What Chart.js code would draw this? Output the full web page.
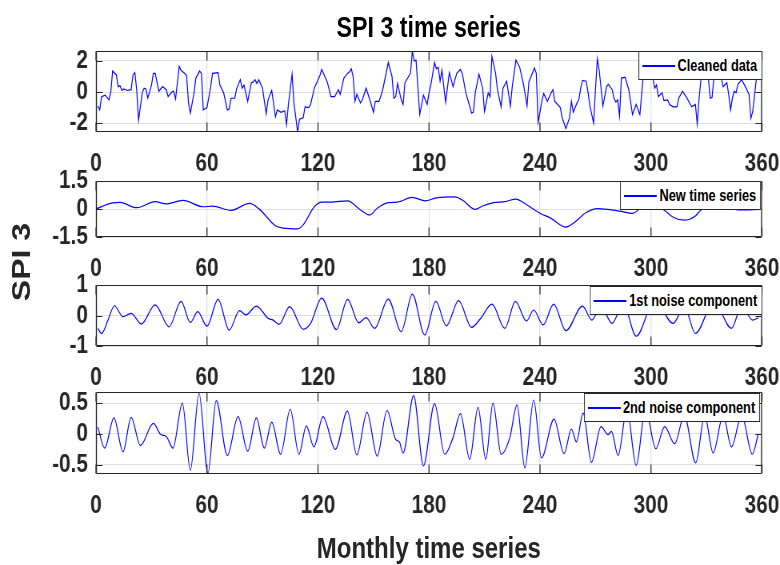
<!DOCTYPE html>
<html>
<head>
<meta charset="utf-8">
<script src="https://cdn.jsdelivr.net/npm/chart.js@4.4.1/dist/chart.umd.min.js"></script>
<style>
html,body{margin:0;padding:0;background:#fff;width:780px;height:565px;overflow:hidden;}
#wrap{position:relative;width:975px;height:565px;transform:scaleX(0.8);transform-origin:0 0;}
canvas{position:absolute;left:0;}
.txt{position:absolute;font-family:'Liberation Sans',Arial,sans-serif;font-weight:bold;white-space:nowrap;text-align:center;}
.leg{position:absolute;background:#fff;border:1px solid #262626;border-left-width:1.25px;border-right-width:1.25px;box-sizing:border-box;height:29px;font-family:'Liberation Sans',Arial,sans-serif;font-weight:bold;font-size:16px;line-height:27px;color:#000;z-index:5;white-space:nowrap;padding:0 5px 0 48px;}
.leg .l{position:absolute;left:4px;top:13px;width:41px;height:1.6px;background:#0000ff;}
#ylab{position:absolute;left:27px;top:262px;font-family:'Liberation Sans',Arial,sans-serif;font-weight:bold;font-size:32px;color:#262626;white-space:nowrap;transform:translate(-50%,-50%) rotate(-90deg);}
</style>
</head>
<body>
<div id="wrap">
  <div class="txt" id="title" style="left:336px;width:400px;top:10px;font-size:29px;line-height:34px;color:#000;">SPI 3 time series</div>
  <div class="txt" id="xlab" style="left:336px;width:400px;top:531px;font-size:30px;line-height:34px;color:#262626;">Monthly time series</div>
  <div id="ylab">SPI 3</div>
</div>
<script>
// ---------- data ----------
const xTickValues = [0, 60, 120, 180, 240, 300, 360];
const xTickLabels = ['0', '60', '120', '180', '240', '300', '360'];

const seriesNames = ['Cleaned data', 'New time series', '1st noise component', '2nd noise component'];

const cleanedMonths = [1,2,3,5,7,8,9,11,12,13,14,15,17,19,20,21,22,23,25,26,27,28,30,31,32,34,36,38,39,41,42,43,45,46,48,49,50,51,53,54,56,57,58,60,62,63,66,67,69,71,72,73,75,76,78,79,80,82,84,85,86,87,88,90,92,93,95,97,98,100,102,103,104,106,107,109,110,112,113,115,116,118,121,122,125,127,129,131,132,134,136,137,138,139,140,141,143,144,146,148,150,151,153,155,158,160,161,162,163,165,166,167,170,171,172,173,175,177,179,180,181,183,184,185,186,187,188,189,191,192,193,195,197,198,200,201,203,204,205,207,209,210,212,213,214,216,217,219,220,222,224,225,227,229,231,233,234,237,238,239,241,242,244,246,247,248,251,252,254,256,257,258,260,261,262,263,265,266,267,269,270,271,272,274,276,277,279,280,281,282,283,284,286,288,290,292,294,296,298,300,301,302,303,304,306,307,309,310,312,314,315,317,319,322,324,325,326,327,329,331,332,333,334,336,338,339,341,342,343,344,345,346,347,349,351,353,354,355,357,358];
const cleanedValues = [-0.9,-1.15,-0.3,-0.2,-0.5,0,1.35,1.1,0.35,0.4,0.1,0.2,0.1,0.15,1.1,1.25,0.15,-1.8,-0.05,0.25,0.2,-0.4,0.45,1.2,1.2,0.05,0.35,0.15,-0.3,0,0.05,-0.45,1.65,1.4,1.2,1.05,-0.7,-1.35,-0.05,0.9,1.35,1.2,-1.15,-1.0,0.35,1.2,1.25,0.45,-0.05,-1.15,-1.1,-0.4,-0.4,0.2,0.8,0.25,0.45,-0.6,0.6,0.65,0.8,0.55,0.8,0.25,-1.4,-0.5,0.1,-1.6,-1.15,-1.3,-1.2,-2.1,-0.8,1.15,-0.7,-2.57,-1.75,-1.65,-0.95,-1.0,-0.8,0.25,1.05,1.45,0.65,-0.3,-0.3,0.15,-0.15,0.9,1.2,1.3,1.5,1.0,-0.6,-0.15,-0.7,-0.5,0.25,-0.5,-1.3,-0.6,-0.6,0.15,1.9,1.0,-0.4,-0.3,0.55,-0.5,-0.8,0.6,1.2,2.64,2.0,2.05,-1.45,-0.2,-0.8,-0.05,0.45,1.9,1.5,1.6,0.7,1.4,0.35,-0.65,1.25,0.8,0.35,1.2,1.45,1.2,-0.1,-0.5,-1.35,-1.3,-0.05,1.15,0.25,-1.25,-0.05,-0.3,2.3,1.2,0.15,-0.95,0.25,0.7,-0.9,0.35,2.05,1.6,0.55,-0.9,0.65,1.55,1.2,-1.95,-0.6,-0.1,-0.6,-0.05,0.15,-0.6,-1.0,-1.65,-2.35,-1.65,-0.6,-1.3,-0.7,-0.5,0.25,0.75,0.7,-0.05,-0.9,-2.0,0.2,2.15,1.4,-0.9,0.35,0.5,0.15,-0.4,-0.65,-0.5,-1.55,0.9,0.95,0.15,-1.45,-0.8,-1.45,1.3,1.6,1.2,0.9,0.25,0.45,-0.3,-0.05,-0.55,-0.5,-0.8,-0.95,-0.95,-0.4,0.05,-0.3,-0.95,-0.8,-2.05,-0.4,0.8,1.4,0.9,-0.4,-0.35,0.9,1.3,0.9,0.35,0.6,-0.15,-1.15,-0.4,0.05,-0.05,0.5,0.8,0.35,-0.15,-1.7,-1.25,0.9,1.2];

const newSeriesMonths = [0,9,13,22,32,38,47,58,63,73,83,88,97,101,109,112,118,122,127,136,143,148,152,158,163,171,178,184,194,198,205,209,215,221,227,233,240,246,254,258,265,271,283,290,298,307,312,318,324,327,336,348,359];
const newSeriesValues = [0,0.33,0.35,0.07,0.39,0.27,0.46,0.12,0.15,-0.07,0.3,0.02,-0.9,-1.02,-1.06,-0.85,0.12,0.37,0.37,0.44,-0.05,-0.32,0.04,0.34,0.37,0.62,0.44,0.6,0.65,0.48,-0.02,0.16,0.34,0.39,0.53,0.21,-0.23,-0.5,-0.97,-0.76,-0.19,0.02,-0.11,-0.23,0.3,-0.05,-0.44,-0.6,-0.37,-0.05,0.2,-0.05,-0.02];

const noise1Months = [1,3,6.5,10,14.6,19,24.5,32,39.5,46,51,55,60,66,72,77.6,81,86.7,93,95.7,99,104.7,112,116,122,130,136,142,146,150.6,158,165,171,177.7,183.7,189.4,196,203,208,214,221,226.7,232.7,236.6,241.7,247.4,254,263,268,273,279,285,292,302,312,318,324,334,343.5,349,355,358];
const noise1Values = [-0.42,-0.59,-0.15,0.32,-0.04,0.07,-0.28,0.35,-0.37,0.46,-0.23,0.13,-0.35,0.53,-0.48,0.16,0.02,0.31,-0.09,-0.15,-0.29,0.29,-0.45,-0.26,0.57,-0.46,0.53,-0.24,-0.07,-0.42,0.54,-0.53,0.7,-0.64,0.46,-0.34,0.49,-0.39,-0.09,0.37,-0.42,0.46,-0.18,0.18,-0.31,0.37,-0.5,0.31,-0.15,0.3,-0.26,0.4,-0.68,0.5,-0.26,0.3,-0.59,0.45,-0.42,0.3,-0.15,-0.08];

const noise2Months = [1,4.7,9.7,14.6,19,24,31,35,38,41.6,46.7,51,55.7,60.5,65,71,76.8,82,86.7,91,95,99.8,105,109.7,113.7,117.8,122.7,129.4,135.9,141,146.5,152,157.3,162,164,166,171.7,177,183,188.5,193,197,202,206.5,210.7,214.6,219,223.7,227.6,231.8,236.6,240.8,247.6,253,257,259.7,263.3,267.8,273,276.8,278.6,282.2,287,292,297,302.6,307.4,312.8,318,324.2,329,333.6,339,343.5,349,354.8,358];
const noise2Values = [0.11,-0.23,0.26,-0.29,0.27,-0.19,0.17,-0.01,-0.04,-0.23,0.5,-0.59,0.66,-0.64,0.54,-0.35,0.28,-0.28,0.26,-0.23,0.19,-0.33,0.4,-0.33,0.13,-0.21,0.28,-0.25,0.37,-0.34,0.35,-0.36,0.38,-0.09,-0.13,-0.31,0.62,-0.52,0.49,-0.33,-0.06,0.33,-0.41,0.43,-0.41,0.5,-0.33,-0.06,0.47,-0.55,0.55,-0.39,0.24,-0.32,0.08,-0.13,0.34,-0.46,0.12,-0.01,0.04,-0.35,0.4,-0.51,0.4,-0.24,0.12,-0.16,0.3,-0.47,0.3,-0.31,0.3,-0.21,0.3,-0.33,0];

const yTicks1 = [-2, 0, 2];       const yTickLabels1 = ['-2', '0', '2'];
const yTicks2 = [-1.5, 0, 1.5];   const yTickLabels2 = ['-1.5', '0', '1.5'];
const yTicks3 = [-1, 0, 1];       const yTickLabels3 = ['-1', '0', '1'];
const yTicks4 = [-0.5, 0, 0.5];   const yTickLabels4 = ['-0.5', '0', '0.5'];

const yLimits1 = [-2.57, 2.64];
const yLimits2 = [-1.5, 1.5];
const yLimits3 = [-1, 1];
const yLimits4 = [-0.65, 0.68];

// ---------- drawing (page is laid out 975 px wide and squeezed to 780 px) ----------
const FONT = "'Liberation Sans', Arial, sans-serif";
const TEXT = '#262626';
const PAGE_W = 975;
const PLOT_LEFT = 120;      // 96 px on screen
const PLOT_RIGHT = 952.5;   // 762 px on screen
const CANVAS_W = 1000;      // wider than the page so the library's label padding fits

const boxPlugin = {
  id: 'matlabBox',
  afterDraw(chart) {
    const ctx = chart.ctx, a = chart.chartArea, xs = chart.scales.x, ys = chart.scales.y;
    const L = a.left + 0.6, R = a.right - 0.6;
    const T = Math.round(a.top) + 0.5, B = Math.round(a.bottom) - 0.5;
    ctx.save();
    ctx.strokeStyle = TEXT;
    ctx.lineWidth = 1;
    ctx.beginPath();
    ctx.moveTo(L, T); ctx.lineTo(R, T);
    ctx.moveTo(L, B); ctx.lineTo(R, B);
    ys.ticks.forEach(t => {
      const p = Math.round(ys.getPixelForValue(t.value)) + 0.5;
      ctx.moveTo(L, p); ctx.lineTo(L + 7.5, p);
      ctx.moveTo(R, p); ctx.lineTo(R - 7.5, p);
    });
    ctx.stroke();
    ctx.lineWidth = 1.25;
    ctx.beginPath();
    ctx.moveTo(L, T); ctx.lineTo(L, B);
    ctx.moveTo(R, T); ctx.lineTo(R, B);
    xs.ticks.forEach(t => {
      const p = xs.getPixelForValue(t.value);
      ctx.moveTo(p, T); ctx.lineTo(p, T + 9);
      ctx.moveTo(p, B); ctx.lineTo(p, B - 9);
    });
    ctx.stroke();
    ctx.restore();
  }
};

const wrap = document.getElementById('wrap');

function makePanel(name, months, values, limits, yTicks, yLabels, smooth, plotTop, plotBottom, legend) {
  const padTop = 32, xAxisH = 45;
  const cv = document.createElement('canvas');
  const h = (plotBottom - plotTop) + padTop + xAxisH;
  cv.width = CANVAS_W; cv.height = h;
  cv.style.width = CANVAS_W + 'px'; cv.style.height = h + 'px';
  cv.style.top = (plotTop - padTop) + 'px';
  wrap.appendChild(cv);

  new Chart(cv.getContext('2d'), {
    type: 'line',
    data: {
      datasets: [{
        label: name,
        data: months.map((m, i) => ({ x: m, y: values[i] })),
        borderColor: '#0000ff',
        borderWidth: 1.2,
        pointRadius: 0,
        fill: false,
        tension: 0,
        cubicInterpolationMode: smooth ? 'monotone' : 'default'
      }]
    },
    options: {
      responsive: false,
      animation: false,
      devicePixelRatio: 1,
      layout: { padding: { top: padTop, left: 0, right: CANVAS_W - PLOT_RIGHT, bottom: 0 } },
      plugins: { legend: { display: false }, tooltip: { enabled: false }, title: { display: false } },
      scales: {
        x: {
          type: 'linear', min: 0, max: 360,
          afterBuildTicks: s => { s.ticks = xTickValues.map(v => ({ value: v })); },
          afterFit: s => { s.height = xAxisH; },
          ticks: {
            autoSkip: false, maxRotation: 0, minRotation: 0, padding: 16, color: TEXT,
            font: { size: 26, weight: 'bold', family: FONT },
            callback: (v, i) => xTickLabels[i]
          },
          grid: { color: '#e0e0e0', lineWidth: 1.25, drawTicks: false },
          border: { display: false }
        },
        y: {
          type: 'linear', min: limits[0], max: limits[1],
          afterBuildTicks: s => { s.ticks = yTicks.map(v => ({ value: v })); },
          afterFit: s => { s.width = PLOT_LEFT; },
          ticks: {
            autoSkip: false, padding: 10, color: TEXT,
            font: { size: 26, weight: 'bold', family: FONT },
            callback: (v, i) => yLabels[i]
          },
          grid: { color: '#e0e0e0', lineWidth: 1, drawTicks: false },
          border: { display: false }
        }
      }
    },
    plugins: [boxPlugin]
  });

  const lg = document.createElement('div');
  lg.className = 'leg';
  lg.style.top = legend.top + 'px';
  lg.style.right = (PAGE_W - legend.right) + 'px';
  const ln = document.createElement('span'); ln.className = 'l';
  const tx = document.createElement('span'); tx.textContent = name;
  lg.appendChild(ln); lg.appendChild(tx);
  wrap.appendChild(lg);
}

makePanel(seriesNames[0], cleanedMonths, cleanedValues, yLimits1, yTicks1, yTickLabels1, false, 51, 132, { top: 51, right: 952.5 });
makePanel(seriesNames[1], newSeriesMonths, newSeriesValues, yLimits2, yTicks2, yTickLabels2, true, 181, 237, { top: 181, right: 951.25 });
makePanel(seriesNames[2], noise1Months, noise1Values, yLimits3, yTicks3, yTickLabels3, true, 285, 346, { top: 286, right: 952.5 });
makePanel(seriesNames[3], noise2Months, noise2Values, yLimits4, yTicks4, yTickLabels4, true, 392, 474, { top: 393, right: 950 });
</script>
</body>
</html>
